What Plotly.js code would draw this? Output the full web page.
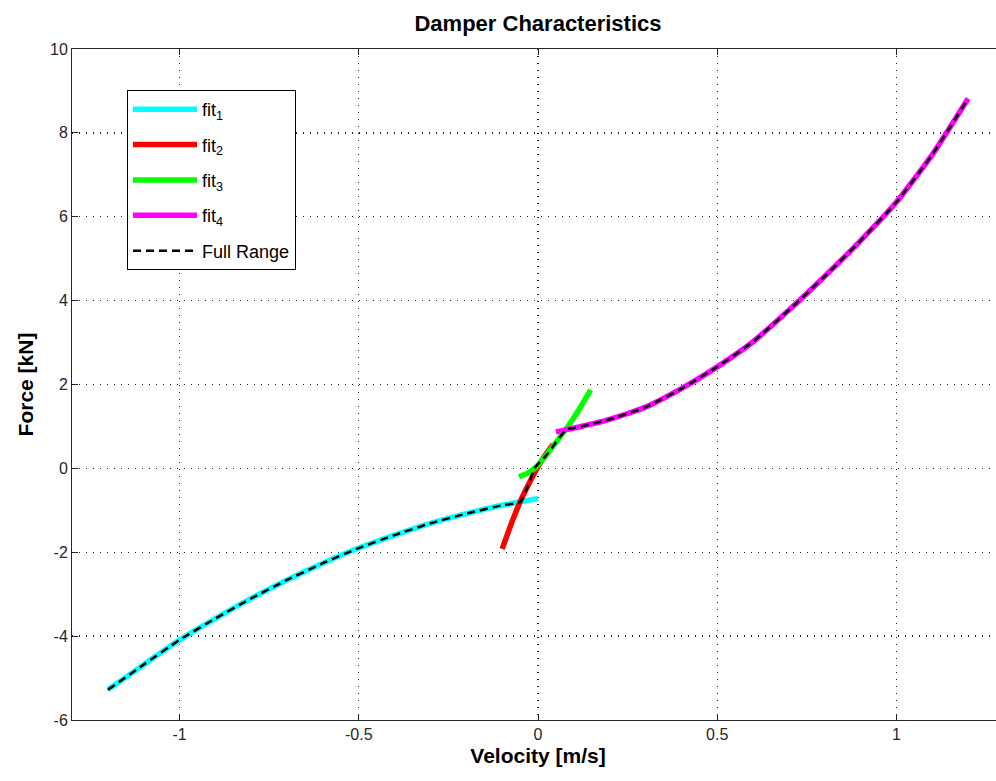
<!DOCTYPE html>
<html>
<head>
<meta charset="utf-8">
<script src="https://cdn.plot.ly/plotly-3.0.1.min.js"></script>
<style>
html,body{margin:0;padding:0;overflow:hidden;background:#fff;}
#chart{width:1010px;height:781px;}
</style>
</head>
<body>
<div id="chart"></div>
<script>
// fit 1 (negative velocity range)
const fit1X = [-1.2, -1.1, -1.0, -0.9, -0.8, -0.7, -0.6, -0.5, -0.4, -0.3, -0.2, -0.1, 0.0];
const fit1Y = [-5.28, -4.68, -4.09, -3.58, -3.10, -2.66, -2.26, -1.90, -1.59, -1.31, -1.08, -0.88, -0.72];
// fit 2
const fit2X = [-0.1, -0.075, -0.05, -0.025, 0.0, 0.02, 0.042];
const fit2Y = [-1.92, -1.33, -0.80, -0.36, 0.04, 0.31, 0.57];
// fit 3
const fit3X = [-0.053, -0.03, -0.01, 0.02, 0.05, 0.082, 0.115, 0.147];
const fit3Y = [-0.20, -0.12, 0.0, 0.28, 0.62, 0.98, 1.41, 1.87];
// fit 4
const fit4X = [0.05, 0.1, 0.2, 0.3, 0.4, 0.5, 0.6, 0.72, 0.8, 0.9, 1.0, 1.1, 1.2];
const fit4Y = [0.87, 0.96, 1.17, 1.46, 1.90, 2.42, 3.02, 3.93, 4.58, 5.43, 6.35, 7.48, 8.82];
// full range (piecewise composite)
const fullX = [-1.2, -1.1, -1.0, -0.9, -0.8, -0.7, -0.6, -0.5, -0.4, -0.3, -0.2, -0.1, -0.05, -0.025, -0.01, 0.02, 0.05, 0.08, 0.1, 0.2, 0.3, 0.4, 0.5, 0.6, 0.72, 0.8, 0.9, 1.0, 1.1, 1.2];
const fullY = [-5.28, -4.68, -4.09, -3.58, -3.10, -2.66, -2.26, -1.90, -1.59, -1.31, -1.08, -0.88, -0.80, -0.36, 0.0, 0.28, 0.62, 0.93, 0.96, 1.17, 1.46, 1.90, 2.42, 3.02, 3.93, 4.58, 5.43, 6.35, 7.48, 8.82];

const names = ['fit<sub>1</sub>', 'fit<sub>2</sub>', 'fit<sub>3</sub>', 'fit<sub>4</sub>', 'Full Range'];
const colors = ['#00ffff', '#ff0000', '#00ff00', '#ff00ff', '#000000'];
const xTicks = [-1, -0.5, 0, 0.5, 1];
const yTicks = [-6, -4, -2, 0, 2, 4, 6, 8, 10];

const xs = [fit1X, fit2X, fit3X, fit4X, fullX];
const ys = [fit1Y, fit2Y, fit3Y, fit4Y, fullY];

const traces = xs.map((x, i) => ({
  x: x, y: ys[i], type: 'scatter', mode: 'lines', name: names[i],
  legendgroup: 'g' + i,
  line: i < 4 ? {color: colors[i], width: 5.5, shape: 'spline', smoothing: 0.5}
              : {color: colors[i], width: 2.5, dash: '8px,5px', shape: 'spline', smoothing: 0.5}
}));

const FONT = 'Liberation Sans, Arial, Helvetica, sans-serif';
const axisCommon = {
  showline: true, linecolor: '#262626', linewidth: 1, mirror: 'ticks',
  ticks: 'inside', ticklen: 6, tickcolor: '#262626',
  showgrid: true, gridcolor: '#222222', griddash: '1px,6px', gridwidth: 1.3,
  zeroline: false,
  tickfont: {family: FONT, size: 16, color: '#262626'}
};

const layout = {
  width: 1010, height: 781,
  margin: {l: 72, r: 6, t: 49, b: 61},
  paper_bgcolor: '#ffffff', plot_bgcolor: '#ffffff',
  font: {family: FONT, color: '#000'},
  title: {text: '<b>Damper Characteristics</b>', x: 0.5, xref: 'paper', y: 0.97, yanchor: 'middle',
          font: {size: 22, family: FONT, color: '#000'}},
  xaxis: Object.assign({}, axisCommon, {
    range: [-1.3, 1.3], tickvals: xTicks, ticktext: xTicks.map(String),
    title: {text: '<b>Velocity [m/s]</b>', standoff: 6, font: {size: 21, family: FONT, color: '#000'}}
  }),
  yaxis: Object.assign({}, axisCommon, {
    range: [-6, 10], tickvals: yTicks, ticktext: yTicks.map(String),
    title: {text: '<b>Force [kN]</b>', standoff: 10, font: {size: 21, family: FONT, color: '#000'}}
  }),
  showlegend: true,
  legend: {
    x: 0.059, y: 0.939, xanchor: 'left', yanchor: 'top',
    bgcolor: '#ffffff', bordercolor: '#000000', borderwidth: 1,
    traceorder: 'grouped', tracegroupgap: 9, itemwidth: 64,
    font: {size: 18, family: FONT, color: '#000'}
  }
};

Plotly.newPlot('chart', traces, layout, {displayModeBar: false, staticPlot: true});
</script>
</body>
</html>
